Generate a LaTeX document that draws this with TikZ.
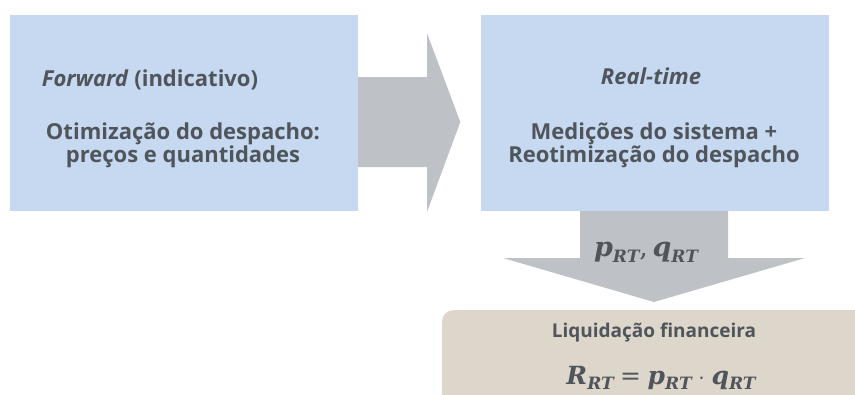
\documentclass[tikz,border=0pt]{standalone}
\usepackage{fontspec}
\setmainfont{Open Sans}
\newfontfamily\formulafont{DejaVu Serif}
\usetikzlibrary{calc}
\definecolor{boxblue}{HTML}{C6D9F0}
\definecolor{arrowgray}{HTML}{BEC2C7}
\definecolor{boxtan}{HTML}{DDD6CA}
\definecolor{textgray}{HTML}{50555C}
% bold-italic serif symbol with a subscript
\newcommand{\symsub}[2]{{\formulafont\bfseries\itshape #1\raisebox{-0.22em}{\fontsize{17}{17}\selectfont #2}}}
\newcommand{\stagefont}{\fontsize{22}{25}\selectfont\bfseries}
\begin{document}
\begin{tikzpicture}[x=1pt,y=-1pt,
  bluebox/.style={fill=boxblue, draw=none, minimum width=348pt, minimum height=196pt, inner sep=0pt},
  boxtext/.style={text=textgray, align=center, inner sep=0pt},
  formula/.style={text=textgray, inner sep=0pt}]
\useasboundingbox (0,0) rectangle (855,394);
\clip (0,0) rectangle (855,394);

% the two stage boxes
\node[bluebox] (fwd) at (184,113) {};
\node[bluebox] (rt) at (654.5,113) {};

% settlement box, running off the lower right edge
\node[fill=boxtan, rounded corners=11pt, minimum width=440pt, minimum height=110pt, inner sep=0pt,
      anchor=north west] (liq) at (442,310) {};

% block arrow from the forward stage to the real-time stage
\fill[arrowgray] (fwd.east |- 0,77) -- (427,77) -- (427,33) -- ($(rt.west |- 0,122)+(-20,0)$)
  -- (427,212) -- (427,167) -- (fwd.east |- 0,167) -- cycle;

% block arrow from the real-time stage down to the settlement
\fill[arrowgray] (580,0 |- rt.south) -- (728,0 |- rt.south) -- (728,258) -- (805,258)
  -- ($(liq.north west -| 654,0)+(0,-8)$) -- (503,258) -- (580,258) -- cycle;

% texts
\node[boxtext] (fwdtitle) at (150,80) {\stagefont\textit{Forward} (indicativo)};
\node[boxtext] (fwdtext) at (183,145) {\stagefont Otimização do despacho:\\\stagefont preços e quantidades};
\node[boxtext] (rttitle) at (651,76) {\stagefont\textit{Real-time}};
\node[boxtext] (rttext) at (654,145) {\stagefont Medições do sistema +\\\stagefont Reotimização do despacho};
\node[formula] (flow) at (646,252) {\fontsize{27}{30}\selectfont\symsub{p}{RT}{\formulafont,}\,\symsub{q}{RT}};
\node[boxtext] (liqtitle) at (654,333) {\fontsize{19}{22}\selectfont\bfseries Liquidação financeira};
\node[formula] (revenue) at (661,378) {\fontsize{25}{30}\selectfont\symsub{R}{RT}~{\formulafont=}~\symsub{p}{RT}~{\formulafont$\cdot$}~\symsub{q}{RT}};
\end{tikzpicture}
\end{document}
